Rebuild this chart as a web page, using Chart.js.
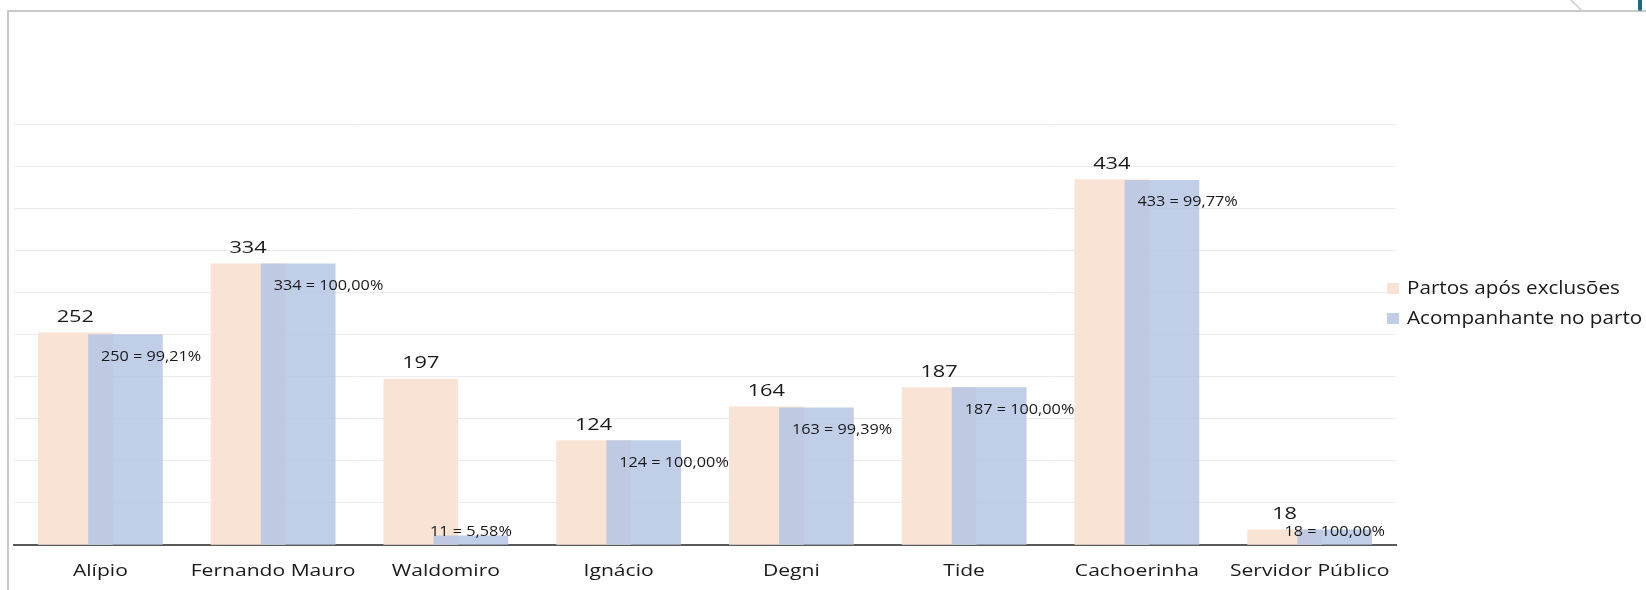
<!DOCTYPE html>
<html lang="pt-br">
  <head>
    <meta charset="UTF-8" />
    <title>Partos e acompanhante</title>
    <script src="https://cdn.jsdelivr.net/npm/chart.js"></script>
    <style>
      body { margin: 0; background: #fff; }
      .quadro { position: relative; width: 1646px; height: 590px; overflow: hidden; }
      .moldura {
        position: absolute; left: 7px; top: 10px; width: 1640px; height: 600px;
        border-left: 2px solid #c9c9c9; border-top: 2px solid #c9c9c9;
      }
      .risco { position: absolute; left: 1575px; top: -3px; width: 2px; height: 16px; background: #d6d6d6; transform: rotate(-45deg); }
      .arco { position: absolute; left: 1638px; top: -4px; width: 4px; height: 15px; background: #1d6a86; border-radius: 2px; }
      canvas { position: absolute; left: 0; top: 0; }
    </style>
  </head>
  <body>
    <div class="quadro">
      <div class="moldura"></div>
      <div class="risco"></div>
      <div class="arco"></div>
      <canvas id="grafico" width="1646" height="590"></canvas>
    </div>

    <script>
      const maternidades = ["Alípio", "Fernando Mauro", "Waldomiro", "Ignácio", "Degni", "Tide", "Cachoerinha", "Servidor Público"]
      const partos = [252, 334, 197, 124, 164, 187, 434, 18]
      const acompanhante = [250, 334, 11, 124, 163, 187, 433, 18]

      // barras sobrepostas: cada serie deslocada um pouco do centro da categoria
      const desloc = 0.145
      const corTexto = "#1a1a1a"

      // texto um pouco esticado na horizontal
      function escrever(ctx, txt, x, y, alinhar, esticar) {
        ctx.save()
        ctx.translate(x, y)
        ctx.scale(esticar, 1)
        ctx.textAlign = alinhar
        ctx.textBaseline = "alphabetic"
        ctx.fillText(txt, 0, 0)
        ctx.restore()
      }

      const rotulos = {
        id: "rotulos",
        afterDraw(chart) {
          const ctx = chart.ctx
          const x = chart.scales.x
          const base = chart.scales.y.getPixelForValue(0)
          ctx.save()
          ctx.fillStyle = corTexto

          // nomes das maternidades no eixo
          ctx.font = "17px 'Open Sans'"
          maternidades.forEach((m, i) => {
            escrever(ctx, m, x.getPixelForValue(i), base + 31, "center", 1.24)
          })

          // total de partos acima da barra
          ctx.font = "17px 'Open Sans'"
          chart.getDatasetMeta(0).data.forEach((barra, i) => {
            escrever(ctx, String(partos[i]), barra.x, barra.y - 11, "center", 1.28)
          })

          // acompanhante = percentual
          ctx.font = "14px 'Open Sans'"
          chart.getDatasetMeta(1).data.forEach((barra, i) => {
            const pct = (acompanhante[i] / partos[i] * 100).toFixed(2).replace(".", ",")
            const txt = acompanhante[i] + " = " + pct + "%"
            if (base - barra.y > 40) {
              escrever(ctx, txt, barra.x - barra.width / 2 + 12.5, barra.y + 26, "left", 1.16)
            } else {
              escrever(ctx, txt, barra.x, base - 9, "center", 1.16)
            }
          })

          // legenda
          ctx.font = "17.5px 'Open Sans'"
          chart.data.datasets.forEach((ds, i) => {
            const y = 294 + i * 30
            ctx.fillStyle = ds.backgroundColor
            ctx.fillRect(1387, y - 11, 12, 11)
            ctx.fillStyle = corTexto
            escrever(ctx, ds.label, 1407, y, "left", 1.18)
          })
          ctx.restore()
        },
      }

      const grafico = new Chart(document.getElementById("grafico"), {
        type: "bar",
        data: {
          datasets: [
            {
              label: "Partos após exclusões",
              data: partos.map((v, i) => ({ x: i - desloc, y: v })),
              backgroundColor: "#f9e3d4",
              order: 2,
            },
            {
              label: "Acompanhante no parto",
              data: acompanhante.map((v, i) => ({ x: i + desloc, y: v })),
              backgroundColor: "rgba(181, 198, 228, 0.85)",
              order: 1,
            },
          ],
        },
        options: {
          responsive: false,
          animation: false,
          layout: { padding: { left: 14, right: 250, top: 124, bottom: 0 } },
          datasets: { bar: { grouped: false, barThickness: 74 } },
          plugins: { legend: { display: false }, tooltip: { enabled: false } },
          scales: {
            x: {
              type: "linear",
              min: -0.5,
              max: 7.5,
              offset: false,
              afterFit: (s) => { s.height = 45 },
              grid: { display: false },
              border: { display: true, color: "#5a5a5a", width: 2 },
              ticks: { display: false },
            },
            y: {
              min: 0,
              max: 500,
              afterFit: (s) => { s.width = 0 },
              ticks: { display: false, stepSize: 50 },
              border: { display: false },
              grid: { color: "#ebebeb", lineWidth: 1, drawTicks: false },
            },
          },
        },
        plugins: [rotulos],
      })
    </script>
  </body>
</html>
